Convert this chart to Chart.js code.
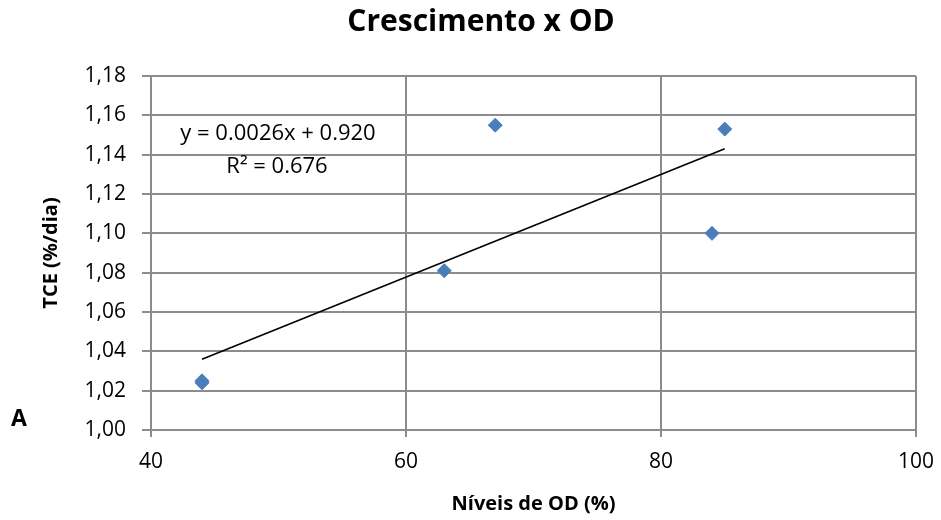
<!DOCTYPE html>
<html>
<head>
<meta charset="utf-8">
<script src="https://cdn.jsdelivr.net/npm/chart.js@4/dist/chart.umd.min.js"></script>
<style>
  html, body { margin: 0; padding: 0; background: #fff; }
  #wrap { width: 941px; height: 520px; position: relative; }
</style>
</head>
<body>
<div id="wrap"><canvas id="myChart" width="941" height="520"></canvas></div>
<script>
// data
const odLevels = [44, 44, 63, 67, 84, 85];
const tceValues = [1.025, 1.024, 1.081, 1.155, 1.100, 1.153];
const trendX = [44, 85];
const trendY = [1.036, 1.143];
const xTicks = [40, 60, 80, 100];
const yTicks = [1.00, 1.02, 1.04, 1.06, 1.08, 1.10, 1.12, 1.14, 1.16, 1.18];

const FONT = "'Open Sans', sans-serif";
const gridColor = '#8c8c8c';

const extraText = {
    id: 'extraText',
    afterDraw(chart) {
        const c = chart.ctx;
        c.save();
        c.fillStyle = '#000';
        c.textAlign = 'center';
        c.textBaseline = 'middle';
        c.font = 'bold 30px ' + FONT;
        c.fillText('Crescimento x OD', 481, 22);
        c.font = '22px ' + FONT;
        c.fillText('y = 0.0026x + 0.920', 278, 134);
        c.fillText('R² = 0.676', 277, 167);
        c.textAlign = 'left';
        c.font = 'bold 23px ' + FONT;
        c.fillText('A', 11, 419);
        c.restore();
    }
};

const ctx = document.getElementById('myChart').getContext('2d');
new Chart(ctx, {
    type: 'scatter',
    data: {
        datasets: [{
            label: 'TCE',
            data: odLevels.map((x, i) => ({ x: x, y: tceValues[i] })),
            pointStyle: 'rectRot',
            pointRadius: 7,
            backgroundColor: '#4a7ebb',
            borderColor: '#4a7ebb',
            borderWidth: 1
        }, {
            label: 'Tendência',
            type: 'line',
            data: trendX.map((x, i) => ({ x: x, y: trendY[i] })),
            borderColor: '#000',
            borderWidth: 1.6,
            pointRadius: 0,
            fill: false
        }]
    },
    options: {
        responsive: false,
        animation: false,
        layout: { padding: { top: 76, right: 25, left: 39, bottom: 0 } },
        plugins: {
            legend: { display: false },
            tooltip: { enabled: false }
        },
        scales: {
            x: {
                type: 'linear',
                min: 40,
                max: 100,
                afterBuildTicks: (axis) => { axis.ticks = xTicks.map(v => ({ value: v })); },
                afterFit: (axis) => {
                    axis.height = 90;
                    axis.paddingLeft = 0;
                    axis.paddingRight = 0;
                },
                grid: { color: gridColor, lineWidth: 2, tickLength: 7 },
                border: { color: gridColor, width: 2 },
                ticks: { color: '#000', font: { family: FONT, size: 21 }, padding: 12 },
                title: {
                    display: true,
                    text: 'Níveis de OD (%)',
                    color: '#000',
                    font: { family: FONT, size: 20, weight: 'bold' },
                    padding: { top: 12 }
                }
            },
            y: {
                min: 1.00,
                max: 1.18,
                afterBuildTicks: (axis) => { axis.ticks = yTicks.map(v => ({ value: v })); },
                afterFit: (axis) => { axis.width = 112; },
                grid: { color: gridColor, lineWidth: 2, tickLength: 9 },
                border: { color: gridColor, width: 2 },
                ticks: {
                    color: '#000',
                    font: { family: FONT, size: 21 },
                    padding: 16,
                    callback: (v) => v.toFixed(2).replace('.', ',')
                },
                title: {
                    display: true,
                    text: 'TCE (%/dia)',
                    color: '#000',
                    font: { family: FONT, size: 20, weight: 'bold' },
                    padding: { top: 0, bottom: 0 }
                }
            }
        }
    },
    plugins: [extraText]
});
</script>
</body>
</html>
